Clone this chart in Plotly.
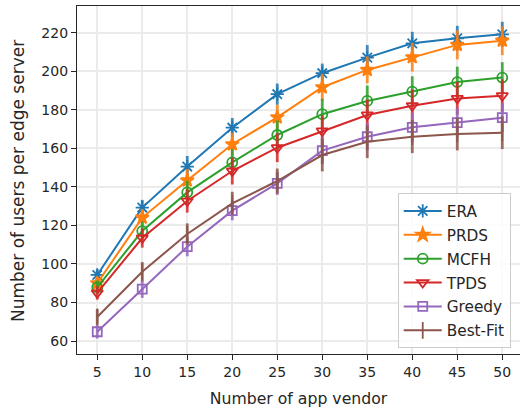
import plotly.graph_objects as go

vendors = [5, 10, 15, 20, 25, 30, 35, 40, 45, 50]
x_ticks = [5, 10, 15, 20, 25, 30, 35, 40, 45, 50]
y_ticks = [60, 80, 100, 120, 140, 160, 180, 200, 220]

era = [94.3, 129.3, 150.6, 170.8, 188.2, 199.1, 207.2, 214.6, 217.2, 219.3]
prds = [90.0, 124.1, 143.4, 162.2, 176.2, 191.8, 200.8, 207.4, 213.8, 216.0]
mcfh = [87.9, 117.1, 137.2, 152.8, 167.0, 177.8, 184.7, 189.5, 194.5, 196.8]
tpds = [85.0, 113.5, 132.7, 148.3, 160.4, 169.1, 177.4, 182.2, 186.0, 187.4]
greedy = [64.8, 86.9, 109.0, 127.7, 141.9, 158.9, 166.1, 171.0, 173.4, 176.0]
bestfit = [72.5, 96.0, 115.6, 131.5, 143.1, 156.6, 163.5, 166.1, 167.5, 168.2]

era_err = [3, 4, 5.5, 5, 5.5, 5, 6.5, 6, 6.5, 6.5]
prds_err = [3, 4.5, 6, 6, 6.5, 7, 7, 7.5, 7.5, 7.5]
mcfh_err = [3.5, 5, 6, 7, 7.5, 8, 8, 8, 8, 8]
tpds_err = [3.5, 5, 6, 7, 7.5, 8, 8, 8.5, 8.5, 8.5]
greedy_err = [3.5, 4.5, 5, 5, 6, 7, 7, 7.5, 7.5, 7.5]
bestfit_err = [4, 5, 5.5, 6, 6.5, 8.5, 8.5, 8.5, 8.5, 8.5]

series = [
    ("ERA", era, era_err, "#1f77b4", "asterisk-open", 11),
    ("PRDS", prds, prds_err, "#ff7f0e", "star", 10),
    ("MCFH", mcfh, mcfh_err, "#2ca02c", "circle-open", 10),
    ("TPDS", tpds, tpds_err, "#d62728", "triangle-down-open", 10),
    ("Greedy", greedy, greedy_err, "#9467bd", "square-open", 9),
    ("Best-Fit", bestfit, bestfit_err, "#8c564b", "line-ns-open", 12),
]

def rgba(hexc, a):
    h = hexc.lstrip("#")
    r, g, b = int(h[0:2], 16), int(h[2:4], 16), int(h[4:6], 16)
    return f"rgba({r},{g},{b},{a})"

fig = go.Figure()
for i, (name, vals, errs, color, sym, size) in enumerate(series):
    fig.add_trace(go.Scatter(
        x=vendors, y=vals, name=name, mode="lines+markers",
        legendgroup=f"g{i}",
        line=dict(color=color, width=2),
        marker=dict(symbol=sym, size=size, color=color,
                    line=dict(color=color, width=1.8)),
        error_y=dict(type="data", array=errs, visible=True,
                     color=rgba(color, 0.85), thickness=2.8, width=0),
    ))

fig.update_layout(
    width=520, height=408,
    margin=dict(l=77, r=0, t=6, b=54),
    paper_bgcolor="white", plot_bgcolor="white",
    font=dict(family="DejaVu Sans", color="#262626", size=14),
    showlegend=True,
    legend=dict(
        x=0.724, y=0.016, xanchor="left", yanchor="bottom",
        bgcolor="rgba(255,255,255,0.85)", bordercolor="#cccccc", borderwidth=1,
        font=dict(size=15.3, family="DejaVu Sans", color="#262626"),
        tracegroupgap=1, itemwidth=38,
    ),
    annotations=[dict(
        text="Number of users per edge server", textangle=-90,
        xref="paper", yref="paper", x=-0.132, y=0.4957,
        xanchor="center", yanchor="middle", showarrow=False,
        font=dict(size=17, family="DejaVu Sans", color="#262626"),
    )],
)
fig.update_xaxes(
    range=[2.75, 51.97], tickvals=x_ticks, ticktext=[str(v) for v in x_ticks],
    showgrid=True, gridcolor="#ebebeb", gridwidth=2,
    showline=True, linecolor="#262626", linewidth=1.2, mirror=True,
    ticks="outside", ticklen=5, tickcolor="#262626", zeroline=False,
    tickfont=dict(size=14),
    title=dict(text="Number of app vendor", font=dict(size=15.7), standoff=15),
)
fig.update_yaxes(
    range=[53.25, 234.0], tickvals=y_ticks, ticktext=[str(v) for v in y_ticks],
    showgrid=True, gridcolor="#ebebeb", gridwidth=2,
    showline=True, linecolor="#262626", linewidth=1.2, mirror=False,
    ticks="outside", ticklen=5, tickcolor="#262626", zeroline=False,
    tickfont=dict(size=14),
)

fig.write_html("out.html")
